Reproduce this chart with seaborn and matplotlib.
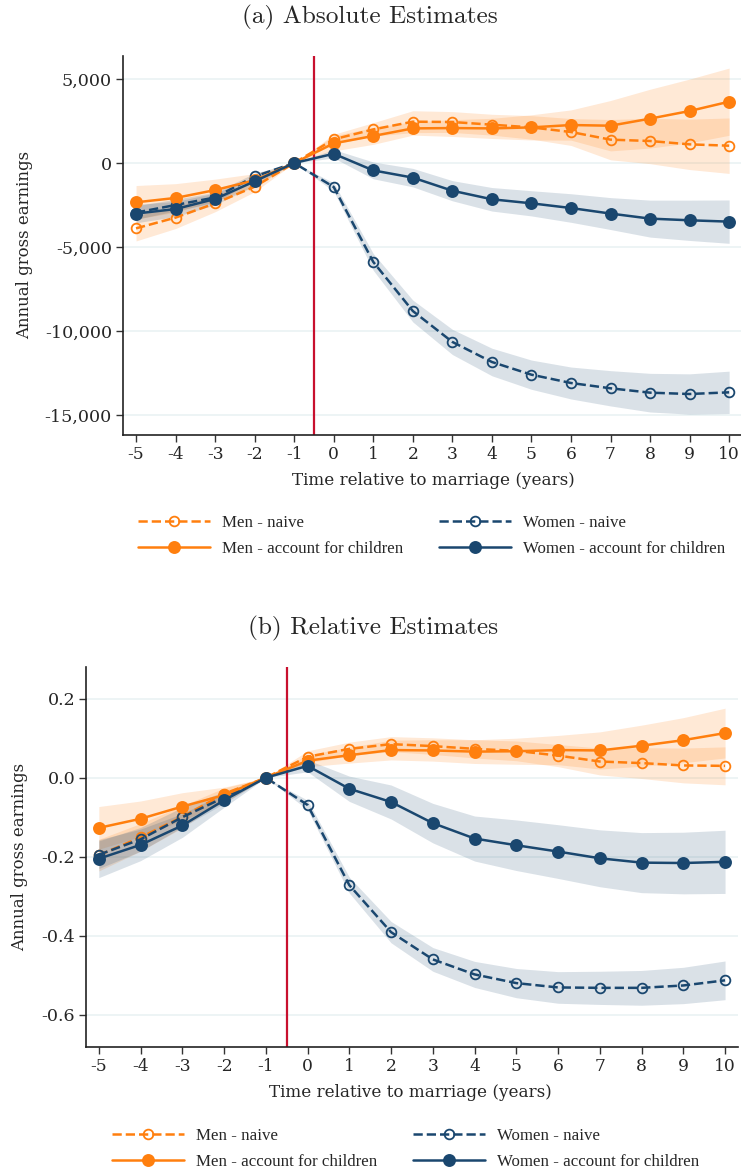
import numpy as np
import pandas as pd
import matplotlib
matplotlib.use("Agg")
import matplotlib.pyplot as plt
from matplotlib.ticker import FuncFormatter
import seaborn as sns

# ---------------- data ----------------
years = list(range(-5, 11))

# Panel (a): absolute estimates
a_men_naive = [-3890, -3250, -2400, -1410, 0, 1410, 2000, 2460, 2440, 2280, 2120, 1845, 1390, 1310, 1110, 1030]
a_men_naive_hw = [750, 650, 500, 300, 0, 300, 400, 650, 620, 620, 700, 800, 1200, 1350, 1500, 1650]
a_men_child = [-2340, -2080, -1610, -1030, 0, 1170, 1610, 2060, 2080, 2060, 2120, 2260, 2220, 2640, 3095, 3650]
a_men_child_hw = [1000, 850, 650, 400, 0, 450, 500, 400, 500, 600, 750, 900, 1500, 1750, 1900, 2000]
a_women_naive = [-2950, -2500, -2050, -800, 0, -1430, -5890, -8810, -10650, -11845, -12600, -13095, -13410, -13670, -13750, -13650]
a_women_naive_hw = [400, 350, 300, 200, 0, 250, 500, 650, 750, 820, 870, 950, 1050, 1150, 1200, 1260]
a_women_child = [-3010, -2740, -2140, -1090, 0, 550, -440, -870, -1650, -2160, -2400, -2680, -3010, -3310, -3410, -3490]
a_women_child_hw = [550, 450, 350, 250, 0, 250, 500, 550, 600, 700, 750, 850, 950, 1100, 1200, 1290]

# Panel (b): relative estimates
b_men_naive = [-0.196, -0.151, -0.099, -0.041, 0, 0.053, 0.073, 0.085, 0.080, 0.073, 0.068, 0.056, 0.041, 0.037, 0.031, 0.030]
b_men_naive_hw = [0.040, 0.035, 0.028, 0.015, 0, 0.015, 0.017, 0.019, 0.021, 0.023, 0.025, 0.028, 0.034, 0.039, 0.044, 0.048]
b_men_child = [-0.127, -0.104, -0.073, -0.044, 0, 0.043, 0.057, 0.070, 0.069, 0.066, 0.067, 0.070, 0.069, 0.081, 0.095, 0.113]
b_men_child_hw = [0.054, 0.045, 0.035, 0.020, 0, 0.015, 0.020, 0.025, 0.027, 0.030, 0.033, 0.037, 0.047, 0.052, 0.057, 0.063]
b_women_naive = [-0.195, -0.156, -0.100, -0.050, 0, -0.069, -0.272, -0.391, -0.460, -0.498, -0.520, -0.531, -0.532, -0.532, -0.526, -0.513]
b_women_naive_hw = [0.035, 0.030, 0.025, 0.015, 0, 0.012, 0.020, 0.027, 0.030, 0.033, 0.037, 0.040, 0.042, 0.044, 0.046, 0.049]
b_women_child = [-0.205, -0.170, -0.121, -0.057, 0, 0.030, -0.028, -0.0615, -0.115, -0.154, -0.171, -0.187, -0.204, -0.215, -0.216, -0.213]
b_women_child_hw = [0.048, 0.040, 0.030, 0.018, 0, 0.015, 0.032, 0.043, 0.050, 0.057, 0.064, 0.068, 0.072, 0.076, 0.078, 0.080]

series_labels = ["Men - naive", "Men - account for children", "Women - naive", "Women - account for children"]
titles = ["(a) Absolute Estimates", "(b) Relative Estimates"]
xlabel = "Time relative to marriage (years)"
ylabel = "Annual gross earnings"
a_yticks = [5000, 0, -5000, -10000, -15000]
b_yticks = [0.2, 0.0, -0.2, -0.4, -0.6]

ORANGE = "#ff7f0e"
NAVY = "#1a476f"
RED = "#c8102e"

sns.set_theme(style="white")
plt.rcParams["font.family"] = ["DejaVu Serif"]

W, H = 741, 1175
fig = plt.figure(figsize=(W / 100, H / 100), dpi=100)
ax_a = fig.add_axes([123 / W, 1 - 435 / H, (741 - 123) / W, (435 - 55.7) / H])
ax_b = fig.add_axes([86.3 / W, 1 - 1046.7 / H, (738 - 86.3) / W, (1046.7 - 667.3) / H])


def draw_panel(ax, data, ylim, xlim, yticks, fmt, ylab_x, xlab_pos, leg_xy):
    specs = [
        (ORANGE, "--", True),
        (ORANGE, "-", False),
        (NAVY, "--", True),
        (NAVY, "-", False),
    ]
    for (vals, hw), (col, ls, hollow) in zip(data, specs):
        v = np.array(vals, dtype=float)
        h = np.array(hw, dtype=float)
        ax.fill_between(years, v - h, v + h, color=col, alpha=0.17 if col == ORANGE else 0.16,
                        linewidth=0, zorder=1)
    ax.axvline(-0.5, color=RED, lw=1.6, zorder=2)
    for (vals, hw), (col, ls, hollow), lab in zip(data, specs, series_labels):
        df = pd.DataFrame({"x": years, "y": vals})
        kw = dict(marker="o", markersize=7 if hollow else 8, markeredgewidth=1.3,
                  markerfacecolor="none" if hollow else col, markeredgecolor=col)
        sns.lineplot(data=df, x="x", y="y", ax=ax, color=col, linestyle=ls, lw=1.8,
                     zorder=4 if not hollow else 3, label=lab, **kw)
    ax.set_xlim(*xlim)
    ax.set_ylim(*ylim)
    ax.set_xticks(years)
    ax.set_xticklabels([str(y) for y in years], fontsize=12.3)
    ax.set_yticks(yticks)
    ax.yaxis.set_major_formatter(FuncFormatter(fmt))
    ax.tick_params(axis="y", labelsize=12.6, length=5, width=1, color="#333333", direction="out", left=True, pad=3)
    ax.tick_params(axis="x", length=5, width=1, color="#333333", direction="out", bottom=True, pad=3)
    ax.grid(axis="y", color="#eaf2f3", lw=1.2, zorder=0)
    ax.grid(axis="x", visible=False)
    for s in ["top", "right"]:
        ax.spines[s].set_visible(False)
    for s in ["left", "bottom"]:
        ax.spines[s].set_color("#222222")
        ax.spines[s].set_linewidth(1.2)
    ax.set_xlabel(xlabel, fontsize=12.1)
    ax.set_ylabel(ylabel, fontsize=11.9)
    ax.yaxis.set_label_coords(ylab_x, 0.5)
    ax.xaxis.set_label_coords(*xlab_pos)
    ax.xaxis.label.set_va("center")
    ax.yaxis.label.set_va("center")
    h, l = ax.get_legend_handles_labels()
    ax.legend(h, l, loc="upper left", bbox_to_anchor=leg_xy, bbox_transform=fig.transFigure,
              ncol=2, frameon=False, borderpad=0, borderaxespad=0,
              prop={"family": "Liberation Serif", "size": 12.2},
              handlelength=4.25, handletextpad=0.7, columnspacing=2.1, labelspacing=0.57)


def fmt_a(v, pos):
    return f"{int(round(v)):,}"


def fmt_b(v, pos):
    return f"{v:.1f}"


draw_panel(ax_a,
           [(a_men_naive, a_men_naive_hw), (a_men_child, a_men_child_hw),
            (a_women_naive, a_women_naive_hw), (a_women_child, a_women_child_hw)],
           (-16190, 6387), (-5.33, 10.3), a_yticks, fmt_a,
           -0.160, (0.5016, -0.121), (138 / W, 1 - 515 / H))
draw_panel(ax_b,
           [(b_men_naive, b_men_naive_hw), (b_men_child, b_men_child_hw),
            (b_women_naive, b_women_naive_hw), (b_women_child, b_women_child_hw)],
           (-0.681, 0.2795), (-5.3, 10.31), b_yticks, fmt_b,
           -0.1018, (0.497, -0.122), (112 / W, 1 - 1128 / H))

fig.text(370 / W, 1 - 17 / H, titles[0], family="cmr10", fontsize=18.2, ha="center", va="center")
fig.text(373 / W, 1 - 628 / H, titles[1], family="cmr10", fontsize=18.2, ha="center", va="center")

fig.savefig("out.png", dpi=100)
